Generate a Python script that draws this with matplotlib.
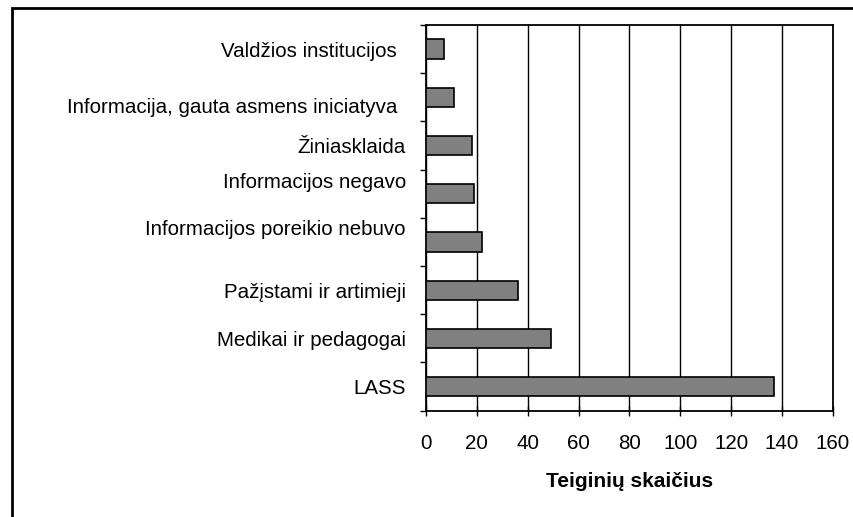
import matplotlib
matplotlib.use("Agg")
import matplotlib.pyplot as plt
import matplotlib.transforms as mtransforms
from matplotlib.patches import Rectangle

plt.rcParams["font.family"] = ["Liberation Sans", "DejaVu Sans"]

# duomenys (iš viršaus į apačią)
categories = [
    "Valdžios institucijos",
    "Informacija, gauta asmens iniciatyva",
    "Žiniasklaida",
    "Informacijos negavo",
    "Informacijos poreikio nebuvo",
    "Pažįstami ir artimieji",
    "Medikai ir pedagogai",
    "LASS",
]
counts = [7, 11, 18, 19, 22, 36, 49, 137]
x_ticks = [0, 20, 40, 60, 80, 100, 120, 140, 160]
x_label = "Teiginių skaičius"

# Excel'io etikečių poslinkiai (px): (dx, dy)
label_shift = {0: (-9, 0), 1: (-9, -8), 3: (0, 13), 4: (0, 14)}

DPI = 100
fig = plt.figure(figsize=(8.54, 5.17), dpi=DPI)
ax = fig.add_axes([426 / 854, 1 - 410.7 / 517, (833 - 426) / 854, (410.7 - 25) / 517])

n = len(categories)
ypos = list(range(n))
ax.barh(ypos, counts, height=0.4, color="#808080", edgecolor="black",
        linewidth=1.2, zorder=3)

ax.set_ylim(n - 0.5, -0.5)
ax.set_xlim(0, 160)

ax.set_xticks(x_ticks)
ax.set_xticklabels([str(v) for v in x_ticks])
ax.tick_params(axis="x", direction="inout", length=7.5, width=1.0,
               labelsize=14.8, pad=13, colors="black")
ax.xaxis.grid(True, color="black", linewidth=1.0, zorder=1)

ax.set_yticks(ypos)
ax.set_yticklabels(categories)
ax.set_yticks([i - 0.5 for i in range(n + 1)], minor=True)
ax.tick_params(axis="y", which="major", length=0, labelsize=14.8, pad=14.4)
ax.tick_params(axis="y", which="minor", direction="out", length=4, width=1.0)

for idx, (dx, dy) in label_shift.items():
    lab = ax.get_yticklabels()[idx]
    off = mtransforms.ScaledTranslation(dx / DPI, dy / DPI, fig.dpi_scale_trans)
    lab.set_transform(lab.get_transform() + off)

for sp in ax.spines.values():
    sp.set_linewidth(1.3)
    sp.set_color("black")

ax.set_xlabel(x_label, fontsize=15, fontweight="bold")
ax.xaxis.set_label_coords(0.5, -0.16)

# išorinis rėmelis
fig.patches.append(Rectangle((12 / 854, -0.5), 2.0, 1.5 - 8 / 517,
                             transform=fig.transFigure, fill=False,
                             edgecolor="black", linewidth=2.0))

fig.savefig("out.png", dpi=DPI)
